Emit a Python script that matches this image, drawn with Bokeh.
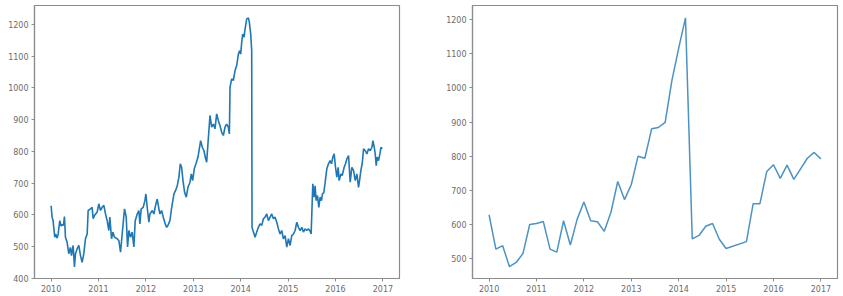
import pandas as pd
from bokeh.plotting import figure
from bokeh.layouts import row
from bokeh.models import FixedTicker
from bokeh.embed import file_html
from bokeh.resources import INLINE

# ---- Left panel: daily price series (decimal year, value) ----
daily_year = [
    2010.000, 2010.021, 2010.042, 2010.077, 2010.099, 2010.127, 2010.148, 2010.183,
    2010.211, 2010.239, 2010.261, 2010.282, 2010.303, 2010.338, 2010.373, 2010.408,
    2010.430, 2010.465, 2010.493, 2010.514, 2010.549, 2010.585, 2010.620, 2010.655,
    2010.690, 2010.725, 2010.761, 2010.782, 2010.831, 2010.866, 2010.887, 2010.915,
    2010.972, 2011.007, 2011.042, 2011.077, 2011.113, 2011.148, 2011.183, 2011.218,
    2011.239, 2011.275, 2011.303, 2011.338, 2011.394, 2011.430, 2011.465, 2011.500,
    2011.549, 2011.585, 2011.613, 2011.641, 2011.676, 2011.711, 2011.746, 2011.775,
    2011.817, 2011.852, 2011.873, 2011.901, 2011.944, 2011.979, 2012.000, 2012.028,
    2012.063, 2012.085, 2012.134, 2012.169, 2012.204, 2012.239, 2012.275, 2012.296,
    2012.331, 2012.366, 2012.408, 2012.437, 2012.465, 2012.507, 2012.535, 2012.563,
    2012.592, 2012.627, 2012.662, 2012.697, 2012.725, 2012.754, 2012.782, 2012.817,
    2012.852, 2012.887, 2012.930, 2012.958, 2012.986, 2013.021, 2013.056, 2013.099,
    2013.155, 2013.190, 2013.225, 2013.261, 2013.282, 2013.317, 2013.352, 2013.387,
    2013.423, 2013.458, 2013.493, 2013.528, 2013.563, 2013.599, 2013.634, 2013.669,
    2013.704, 2013.739, 2013.761, 2013.775, 2013.810, 2013.845, 2013.880, 2013.915,
    2013.951, 2013.979, 2014.000, 2014.021, 2014.042, 2014.070, 2014.092, 2014.127,
    2014.162, 2014.183, 2014.211, 2014.232, 2014.239, 2014.268, 2014.303, 2014.338,
    2014.373, 2014.408, 2014.444, 2014.479, 2014.514, 2014.549, 2014.585, 2014.620,
    2014.655, 2014.690, 2014.725, 2014.761, 2014.796, 2014.831, 2014.866, 2014.901,
    2014.937, 2014.972, 2015.007, 2015.042, 2015.077, 2015.113, 2015.148, 2015.183,
    2015.218, 2015.254, 2015.289, 2015.324, 2015.359, 2015.394, 2015.430, 2015.458,
    2015.486, 2015.521, 2015.549, 2015.570, 2015.592, 2015.620, 2015.648, 2015.676,
    2015.704, 2015.725, 2015.754, 2015.782, 2015.817, 2015.852, 2015.887, 2015.915,
    2015.944, 2015.972, 2016.000, 2016.028, 2016.056, 2016.077, 2016.113, 2016.141,
    2016.183, 2016.211, 2016.239, 2016.275, 2016.310, 2016.345, 2016.380, 2016.416,
    2016.451, 2016.486, 2016.507, 2016.535, 2016.563, 2016.592, 2016.627, 2016.662,
    2016.697, 2016.732, 2016.768, 2016.789, 2016.817, 2016.838, 2016.859, 2016.880,
    2016.908, 2016.937, 2016.958, 2016.986,
]
daily_price = [
    629, 593, 582, 530, 540, 527, 538, 582,
    565, 570, 567, 595, 530, 514, 478, 498,
    472, 504, 436, 478, 493, 504, 472, 451,
    478, 525, 540, 614, 619, 624, 588, 598,
    609, 635, 614, 624, 630, 603, 582, 551,
    593, 525, 546, 530, 525, 519, 483, 540,
    619, 593, 499, 551, 530, 546, 499, 582,
    603, 614, 572, 619, 624, 645, 666, 624,
    577, 603, 614, 603, 630, 650, 619, 603,
    614, 593, 572, 561, 567, 582, 614, 640,
    666, 677, 692, 719, 761, 750, 708, 671,
    656, 687, 703, 729, 708, 745, 761, 782,
    834, 813, 802, 776, 766, 840, 913, 876,
    886, 871, 918, 897, 881, 860, 850, 876,
    886, 876, 855, 1002, 1028, 1023, 1054, 1070,
    1106, 1117, 1106, 1143, 1169, 1159, 1185, 1217,
    1220, 1206, 1169, 1117, 561, 546, 530, 546,
    561, 572, 567, 588, 593, 603, 582, 593,
    603, 588, 593, 577, 556, 540, 551, 525,
    535, 499, 525, 504, 535, 540, 551, 577,
    561, 551, 561, 546, 556, 551, 556, 551,
    540, 698, 656, 692, 645, 661, 624, 656,
    645, 666, 671, 703, 745, 761, 771, 761,
    782, 792, 750, 719, 750, 708, 729, 724,
    750, 761, 776, 787, 703, 750, 740, 708,
    729, 687, 708, 740, 761, 808, 802, 792,
    808, 802, 813, 834, 813, 792, 755, 782,
    771, 792, 813, 808,
]

# ---- Right panel: resampled series ----
sample_year = [
    2010.000, 2010.143, 2010.286, 2010.429, 2010.571, 2010.714, 2010.857, 2011.000,
    2011.143, 2011.286, 2011.429, 2011.571, 2011.714, 2011.857, 2012.000, 2012.143,
    2012.286, 2012.429, 2012.571, 2012.714, 2012.857, 2013.000, 2013.143, 2013.286,
    2013.429, 2013.571, 2013.714, 2013.857, 2014.000, 2014.143, 2014.286, 2014.429,
    2014.571, 2014.714, 2014.857, 2015.000, 2015.429, 2015.571, 2015.714, 2015.857,
    2016.000, 2016.143, 2016.286, 2016.429, 2016.571, 2016.714, 2016.857, 2017.000,
]
sample_price = [
    628, 528, 538, 477, 489, 515, 600, 603,
    609, 528, 519, 611, 540, 615, 666, 611,
    608, 580, 636, 726, 673, 717, 800, 794,
    880, 884, 899, 1022, 1116, 1205, 558, 568,
    595, 603, 557, 530, 550, 661, 661, 755,
    775, 735, 774, 732, 763, 794, 811, 792,
]

year_ticks = [2010, 2011, 2012, 2013, 2014, 2015, 2016, 2017]
left_yticks = [400, 500, 600, 700, 800, 900, 1000, 1100, 1200]
right_yticks = [500, 600, 700, 800, 900, 1000, 1100, 1200]

FONT = "DejaVu Sans"
SPINE = "#8c8c8c"
TXT = "#6b6b6b"


def style(p, yticks):
    p.outline_line_color = SPINE
    p.outline_line_width = 1.2
    p.grid.visible = False
    p.background_fill_color = "white"
    p.border_fill_color = "white"
    p.xaxis.ticker = FixedTicker(ticks=year_ticks)
    p.yaxis.ticker = FixedTicker(ticks=yticks)
    for ax in (p.xaxis[0], p.yaxis[0]):
        ax.axis_line_color = SPINE
        ax.axis_line_width = 1.2
        ax.major_tick_line_color = SPINE
        ax.major_tick_out = 3
        ax.major_tick_in = 0
        ax.minor_tick_line_color = None
        ax.major_label_text_font = FONT
        ax.major_label_text_font_size = "8px"
        ax.major_label_text_color = TXT
        ax.major_label_standoff = 3
    p.xaxis.formatter.use_scientific = False
    p.yaxis.formatter.use_scientific = False


left = figure(width=421, height=296, output_backend="svg", toolbar_location=None,
              x_range=(2009.65, 2017.35), y_range=(400, 1259),
              min_border_left=34, min_border_right=22, min_border_top=5, min_border_bottom=18)
left.line(daily_year, daily_price, line_color="#1f77b4", line_width=1.6)
style(left, left_yticks)

right = figure(width=422, height=296, output_backend="svg", toolbar_location=None,
               x_range=(2009.65, 2017.35), y_range=(442, 1241),
               min_border_left=51, min_border_right=6, min_border_top=5, min_border_bottom=18)
right.line(sample_year, sample_price, line_color="#1f77b4", line_alpha=0.8, line_width=1.5)
style(right, right_yticks)

layout = row(left, right)
open("out.html", "w").write(file_html(layout, INLINE))
